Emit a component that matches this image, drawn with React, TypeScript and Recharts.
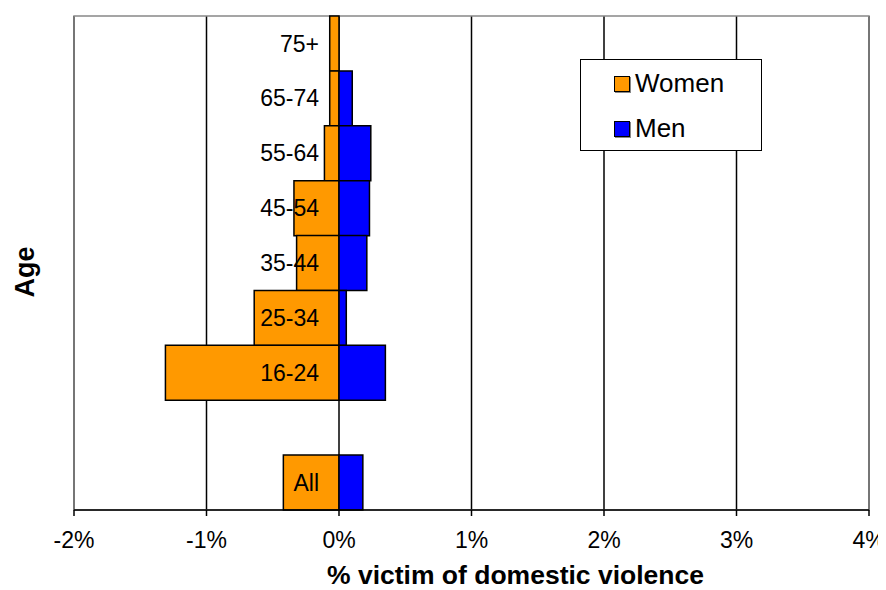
import {
  BarChart,
  Bar,
  XAxis,
  YAxis,
  Legend,
  LabelList,
  CartesianGrid,
  ReferenceArea
} from 'recharts';

// age bands, top to bottom (blank row separates "All")
const ageGroups = ['75+', '65-74', '55-64', '45-54', '35-44', '25-34', '16-24', ' ', 'All'];
// % victim of domestic violence (women drawn to the left)
const womenValues = [-0.07, -0.07, -0.11, -0.34, -0.32, -0.64, -1.31, null, -0.42];
const menValues = [0, 0.1, 0.24, 0.23, 0.21, 0.055, 0.35, null, 0.18];
const xTicks = [-2, -1, 0, 1, 2, 3, 4];

const WOMEN_COLOR = '#FF9900';
const MEN_COLOR = '#0000FF';
const FONT = 'Arial, "Liberation Sans", sans-serif';

const data = ageGroups.map((age, i) => ({
  age,
  women: womenValues[i],
  men: menValues[i]
}));

function AgeLabel(props: any) {
  const { x, y, width, height, value } = props;
  if (typeof x !== 'number' || !value || !value.trim()) return null;
  const zeroX = Math.max(x, x + width);
  return (
    <text
      x={zeroX - 20}
      y={y + height / 2}
      textAnchor="end"
      dominantBaseline="central"
      fontSize={23}
      fontFamily={FONT}
      fill="#000"
    >
      {value}
    </text>
  );
}

function LegendBox() {
  const items = [
    { name: 'Women', color: WOMEN_COLOR },
    { name: 'Men', color: MEN_COLOR }
  ];
  return (
    <div
      style={{
        width: 182,
        height: 92,
        boxSizing: 'border-box',
        border: '1.5px solid #000',
        background: '#fff',
        fontFamily: FONT,
        fontSize: 26,
        paddingTop: 1
      }}
    >
      {items.map((item) => (
        <div key={item.name} style={{ display: 'flex', alignItems: 'center', height: 45, paddingLeft: 33 }}>
          <span
            style={{
              display: 'inline-block',
              width: 14,
              height: 14,
              background: item.color,
              border: '1.5px solid #000',
              boxShadow: '1px 1px 0 #888',
              marginRight: 5
            }}
          />
          <span>{item.name}</span>
        </div>
      ))}
    </div>
  );
}

export default function App() {
  return (
    <BarChart
      width={878}
      height={582}
      data={data}
      layout="vertical"
      stackOffset="sign"
      barCategoryGap={0}
      barGap={0}
      margin={{ top: 8, right: 17, bottom: 10, left: 0 }}
      style={{ overflow: 'visible' }}
    >
      <CartesianGrid horizontal={false} stroke="#000" strokeWidth={1.5} />
      <XAxis
        type="number"
        domain={[-2, 4]}
        ticks={xTicks}
        tickFormatter={(v: number) => `${v}%`}
        axisLine={{ stroke: '#000', strokeWidth: 1.5 }}
        tickLine={{ stroke: '#000', strokeWidth: 1.5 }}
        tickSize={6}
        tickMargin={16}
        tick={{ fill: '#000', fontSize: 23, fontFamily: FONT }}
        height={70}
        label={(p: any) => {
          const vb = p.viewBox;
          return (
            <text
              x={vb.x + vb.width / 2 + 44}
              y={vb.y + 74}
              textAnchor="middle"
              fontSize={26.5}
              fontWeight="bold"
              fontFamily={FONT}
              fill="#000"
            >
              % victim of domestic violence
            </text>
          );
        }}
      />
      <YAxis
        type="category"
        dataKey="age"
        width={66}
        tick={false}
        axisLine={false}
        tickLine={false}
        label={(p: any) => {
          const vb = p.viewBox;
          const cx = vb.x + 17;
          const cy = vb.y + vb.height / 2 + 9;
          return (
            <text
              x={cx}
              y={cy}
              transform={`rotate(-90, ${cx}, ${cy})`}
              textAnchor="middle"
              dominantBaseline="central"
              fontSize={27}
              fontWeight="bold"
              fontFamily={FONT}
              fill="#000"
            >
              Age
            </text>
          );
        }}
      />
      <Legend
        layout="vertical"
        align="center"
        verticalAlign="middle"
        wrapperStyle={{ left: 572, top: 51, width: 182, height: 92 }}
        content={() => <LegendBox />}
      />
      <Bar
        dataKey="women"
        name="Women"
        stackId="a"
        fill={WOMEN_COLOR}
        stroke="#000"
        strokeWidth={1.5}
        isAnimationActive={false}
      >
        <LabelList dataKey="age" content={AgeLabel} />
      </Bar>
      <Bar
        dataKey="men"
        name="Men"
        stackId="a"
        fill={MEN_COLOR}
        stroke="#000"
        strokeWidth={1.5}
        isAnimationActive={false}
      />
      <ReferenceArea x1={-2} x2={4} fill="none" stroke="#888" strokeWidth={1.5} ifOverflow="extendDomain" />
    </BarChart>
  );
}
